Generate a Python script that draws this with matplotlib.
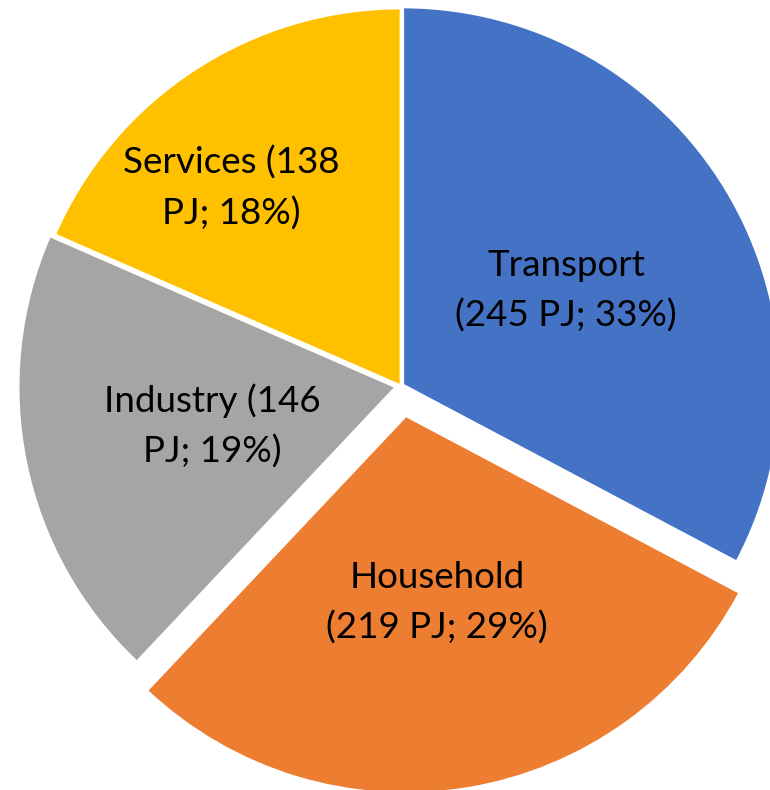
import matplotlib
matplotlib.use("Agg")
import matplotlib.pyplot as plt

# energy use by sector
sectors = ["Transport", "Household", "Industry", "Services"]
energy_pj = [245, 219, 146, 138]
shares = [33, 29, 19, 18]
colors = ["#4472C4", "#ED7D31", "#A5A5A5", "#FFC000"]
explode_px = [2, 30, 5, 0]

# label text layout (pixel positions of label centres, y from top)
label_text = [
    "Transport\n(245 PJ; 33%)",
    "Household\n(219 PJ; 29%)",
    "Industry (146\nPJ; 19%)",
    "Services (138\nPJ; 18%)",
]
label_pos = [(566, 291), (437, 603), (212, 426), (231, 188)]

W, H = 770, 790
CX, CY, R = 401, 386, 378


def main():
    fig = plt.figure(figsize=(W / 100, H / 100), dpi=100)
    ax = fig.add_axes([0, 0, 1, 1])

    # explode is in data units here (pixels)
    ax.pie(energy_pj, colors=colors, explode=explode_px, startangle=90,
           counterclock=False, center=(CX, H - CY), radius=R, frame=True,
           wedgeprops=dict(edgecolor="white", linewidth=2))
    ax.set_xlim(0, W)
    ax.set_ylim(0, H)
    ax.axis("off")

    for txt, (x, y) in zip(label_text, label_pos):
        ax.text(x, H - y, txt, ha="center", va="center", fontsize=26.5,
                family="Lato", color="black", linespacing=1.6)

    fig.savefig("out.png", dpi=100)


if __name__ == "__main__":
    main()
